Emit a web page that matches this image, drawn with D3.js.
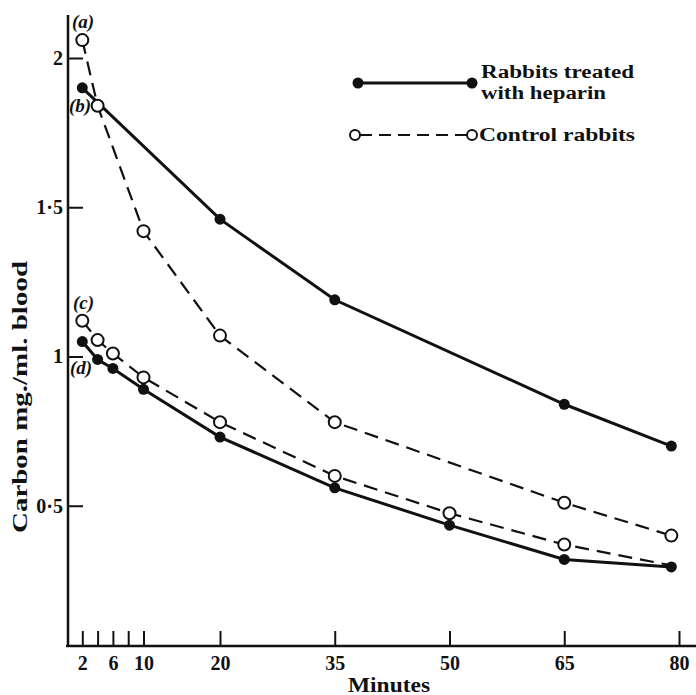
<!DOCTYPE html>
<html>
  <head>
    <script src="https://d3js.org/d3.v7.min.js"></script>
    <style>
      body { margin: 0; background: #fff; }
      text { font-family: "Liberation Serif", "DejaVu Serif", serif; fill: #111; }
    </style>
  </head>
  <body>
    <script>

    // minutes after injection
    const heparinUpperX  = [2, 20, 35, 65, 79];
    const heparinUpperY  = [1.90, 1.46, 1.19, 0.84, 0.70];
    const controlUpperX  = [2, 4, 10, 20, 35, 65, 79];
    const controlUpperY  = [2.06, 1.84, 1.42, 1.07, 0.78, 0.51, 0.40];
    const controlLowerX  = [2, 4, 6, 10, 20, 35, 50, 65, 79];
    const controlLowerY  = [1.12, 1.055, 1.01, 0.93, 0.78, 0.60, 0.475, 0.37, 0.30];
    const heparinLowerX  = [2, 4, 6, 10, 20, 35, 50, 65, 79];
    const heparinLowerY  = [1.05, 0.99, 0.96, 0.89, 0.73, 0.56, 0.435, 0.32, 0.295];

    const xTicks = [2, 4, 6, 8, 10, 20, 35, 50, 65, 80];
    const xTickLabels = [2, 6, 10, 20, 35, 50, 65, 80];
    const yTicks = [0.5, 1, 1.5, 2];
    const yTickLabels = ["0·5", "1", "1·5", "2"];

    const width = 696, height = 695;

    const x = d3.scaleLinear().domain([0, 80]).range([67, 679]);
    const y = d3.scaleLinear().domain([0, 2]).range([655, 58]);

    const svg = d3.select("body").append("svg")
        .attr("width", width)
        .attr("height", height);

    // axes
    svg.append("line")
        .attr("x1", 68).attr("x2", 68)
        .attr("y1", 15).attr("y2", 647)
        .attr("stroke", "#111").attr("stroke-width", 2.5);
    svg.append("line")
        .attr("x1", 66).attr("x2", 696)
        .attr("y1", 646).attr("y2", 646)
        .attr("stroke", "#111").attr("stroke-width", 2.5);

    const xAxis = svg.append("g")
        .attr("transform", "translate(0,646)")
        .call(d3.axisBottom(x)
          .tickValues(xTicks)
          .tickSize(-15)
          .tickPadding(10)
          .tickFormat(d => xTickLabels.includes(d) ? d : ""));
    xAxis.select(".domain").remove();
    xAxis.selectAll(".tick line").attr("stroke", "#111").attr("stroke-width", 2);
    xAxis.selectAll(".tick text")
        .attr("font-family", "Liberation Serif")
        .attr("font-weight", "bold")
        .attr("font-size", 20)
        .attr("fill", "#111");

    const yAxis = svg.append("g")
        .attr("transform", "translate(68,0)")
        .call(d3.axisLeft(y)
          .tickValues(yTicks)
          .tickSize(-15)
          .tickPadding(5)
          .tickFormat((d, i) => yTickLabels[i]));
    yAxis.select(".domain").remove();
    yAxis.selectAll(".tick line").attr("stroke", "#111").attr("stroke-width", 2);
    yAxis.selectAll(".tick text")
        .attr("font-family", "Liberation Serif")
        .attr("font-weight", "bold")
        .attr("font-size", 20)
        .attr("fill", "#111");

    svg.append("text")
        .attr("x", 389).attr("y", 692)
        .attr("text-anchor", "middle")
        .attr("font-size", 20).attr("font-weight", "bold")
        .attr("textLength", 82).attr("lengthAdjust", "spacingAndGlyphs")
        .text("Minutes");

    svg.append("text")
        .attr("transform", "translate(27,397) rotate(-90)")
        .attr("text-anchor", "middle")
        .attr("font-size", 20).attr("font-weight", "bold")
        .attr("textLength", 272).attr("lengthAdjust", "spacingAndGlyphs")
        .text("Carbon mg./ml. blood");

    // series
    const zip = (xs, ys) => xs.map((v, i) => [v, ys[i]]);
    const line = d3.line().x(d => x(d[0])).y(d => y(d[1]));

    const series = [
      { pts: zip(controlUpperX, controlUpperY), dashed: true },
      { pts: zip(controlLowerX, controlLowerY), dashed: true, skipLast: true },
      { pts: zip(heparinUpperX, heparinUpperY), dashed: false },
      { pts: zip(heparinLowerX, heparinLowerY), dashed: false }
    ];

    series.forEach(s => {
      svg.append("path")
          .attr("d", line(s.pts))
          .attr("fill", "none")
          .attr("stroke", "#111")
          .attr("stroke-width", s.dashed ? 2.2 : 3)
          .attr("stroke-dasharray", s.dashed ? "14,8" : null);
    });

    series.forEach(s => {
      // last control point sits under the heparin point at 80 min
      const pts = s.skipLast ? s.pts.slice(0, -1) : s.pts;
      svg.append("g").selectAll("circle")
        .data(pts)
        .enter().append("circle")
          .attr("cx", d => x(d[0]))
          .attr("cy", d => y(d[1]))
          .attr("r", s.dashed ? 6 : 5.5)
          .attr("fill", s.dashed ? "#fff" : "#111")
          .attr("stroke", "#111")
          .attr("stroke-width", s.dashed ? 2 : 0);
    });

    // curve labels
    const labels = [["(a)", 72, 28], ["(b)", 69, 112], ["(c)", 73, 309], ["(d)", 70, 374]];
    svg.selectAll(".lab")
      .data(labels)
      .enter().append("text")
        .attr("class", "lab")
        .attr("x", d => d[1]).attr("y", d => d[2])
        .attr("font-size", 19)
        .attr("font-style", "italic")
        .attr("font-weight", "bold")
        .text(d => d[0]);

    // legend
    const lg = svg.append("g");
    lg.append("line")
        .attr("x1", 358).attr("x2", 472).attr("y1", 83).attr("y2", 83)
        .attr("stroke", "#111").attr("stroke-width", 3);
    lg.selectAll(".lf").data([358, 472]).enter().append("circle")
        .attr("cx", d => d).attr("cy", 83).attr("r", 5.5).attr("fill", "#111");
    lg.append("text").attr("x", 481).attr("y", 78)
        .attr("font-weight", "bold").attr("font-size", 18)
        .attr("textLength", 153).attr("lengthAdjust", "spacingAndGlyphs")
        .text("Rabbits treated");
    lg.append("text").attr("x", 481).attr("y", 99)
        .attr("font-weight", "bold").attr("font-size", 18)
        .attr("textLength", 125).attr("lengthAdjust", "spacingAndGlyphs")
        .text("with heparin");

    lg.append("line")
        .attr("x1", 360).attr("x2", 468).attr("y1", 135).attr("y2", 135)
        .attr("stroke", "#111").attr("stroke-width", 2.2)
        .attr("stroke-dasharray", "12,7");
    lg.selectAll(".lo").data([355, 472]).enter().append("circle")
        .attr("cx", d => d).attr("cy", 135).attr("r", 5)
        .attr("fill", "#fff").attr("stroke", "#111").attr("stroke-width", 2);
    lg.append("text").attr("x", 479).attr("y", 141)
        .attr("font-weight", "bold").attr("font-size", 19)
        .attr("textLength", 156).attr("lengthAdjust", "spacingAndGlyphs")
        .text("Control rabbits");

    </script>
  </body>
</html>
